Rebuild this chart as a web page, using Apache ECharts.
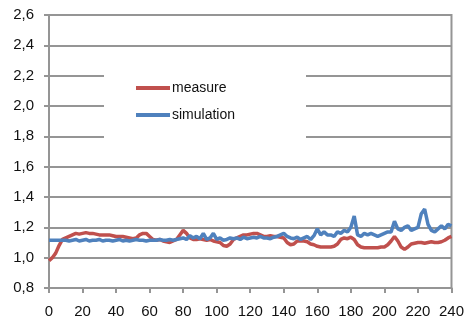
<!DOCTYPE html>
<html>
<head>
<meta charset="utf-8">
<script src="https://cdn.jsdelivr.net/npm/echarts@6/dist/echarts.min.js"></script>
<style>
  html, body { margin: 0; padding: 0; background: #fff; }
  #chart { width: 467px; height: 326px; }
</style>
</head>
<body>
<div id="chart"></div>
<script>
// sample step of the recorded series (x axis units)
const step = 2;

const measure = [
  0.98, 1.00, 1.03, 1.08, 1.12, 1.13, 1.14, 1.15, 1.16, 1.155,
  1.16, 1.165, 1.16, 1.16, 1.155, 1.15, 1.15, 1.15, 1.15, 1.145,
  1.14, 1.14, 1.14, 1.135, 1.13, 1.125, 1.13, 1.15, 1.16, 1.16,
  1.14, 1.12, 1.115, 1.12, 1.11, 1.105, 1.10, 1.11, 1.12, 1.15,
  1.18, 1.16, 1.13, 1.12, 1.12, 1.125, 1.12, 1.115, 1.12, 1.11,
  1.105, 1.10, 1.08, 1.075, 1.09, 1.12, 1.13, 1.14, 1.15, 1.15,
  1.155, 1.16, 1.16, 1.15, 1.14, 1.14, 1.145, 1.14, 1.14, 1.135,
  1.13, 1.10, 1.085, 1.09, 1.11, 1.11, 1.11, 1.105, 1.09, 1.085,
  1.075, 1.07, 1.07, 1.07, 1.07, 1.075, 1.09, 1.12, 1.13, 1.125,
  1.135, 1.12, 1.085, 1.07, 1.065, 1.065, 1.065, 1.065, 1.065, 1.07,
  1.07, 1.085, 1.11, 1.14, 1.11, 1.07, 1.055, 1.07, 1.09, 1.095,
  1.10, 1.10, 1.095, 1.10, 1.105, 1.10, 1.10, 1.105, 1.115, 1.13,
  1.14
];

const simulation = [
  1.115, 1.115, 1.115, 1.115, 1.115, 1.115, 1.11, 1.115, 1.12, 1.11,
  1.115, 1.12, 1.11, 1.115, 1.115, 1.12, 1.11, 1.115, 1.115, 1.11,
  1.115, 1.12, 1.11, 1.115, 1.11, 1.115, 1.12, 1.115, 1.115, 1.11,
  1.115, 1.115, 1.115, 1.12, 1.115, 1.115, 1.12, 1.115, 1.12, 1.125,
  1.13, 1.12, 1.145, 1.13, 1.14, 1.125, 1.16, 1.12, 1.13, 1.16,
  1.12, 1.13, 1.115, 1.12, 1.13, 1.125, 1.13, 1.12, 1.135, 1.125,
  1.13, 1.135, 1.13, 1.14, 1.13, 1.13, 1.125, 1.135, 1.14, 1.15,
  1.16, 1.14, 1.13, 1.125, 1.135, 1.12, 1.13, 1.14, 1.12, 1.145,
  1.19, 1.15, 1.17, 1.15, 1.15, 1.14, 1.17, 1.16, 1.18, 1.17,
  1.20, 1.275, 1.15, 1.14, 1.16, 1.15, 1.16, 1.15, 1.14, 1.15,
  1.16, 1.17, 1.17, 1.24, 1.19, 1.18, 1.20, 1.21, 1.18, 1.19,
  1.20, 1.29, 1.32, 1.22, 1.18, 1.17, 1.19, 1.21, 1.19, 1.22,
  1.21
];

const seriesNames = ["measure", "simulation"];
const colors = ["#C0504D", "#4F81BD"];

const xMin = 0, xMax = 240, xInterval = 20;
const yMin = 0.8, yMax = 2.6, yInterval = 0.2;

const grey = "#959595";
const font = "Liberation Sans, Arial, sans-serif";

function pairs(values) {
  return values.map((v, i) => [i * step, v]);
}

const chart = echarts.init(document.getElementById("chart"), null, { renderer: "canvas" });

chart.setOption({
  animation: false,
  backgroundColor: "#fff",
  grid: {
    left: 49, right: 15, top: 15, bottom: 38,
    show: true, borderColor: grey, borderWidth: 2, backgroundColor: "transparent"
  },
  xAxis: {
    type: "value",
    min: xMin, max: xMax, interval: xInterval,
    axisLine: { lineStyle: { color: grey, width: 2 } },
    axisTick: { show: true, length: 5, lineStyle: { color: grey, width: 2 } },
    axisLabel: { color: "#111", fontSize: 15, fontFamily: font, margin: 16 },
    splitLine: { show: false }
  },
  yAxis: {
    type: "value",
    min: yMin, max: yMax, interval: yInterval,
    axisLine: { show: true, lineStyle: { color: grey, width: 2 } },
    axisTick: { show: true, length: 5, lineStyle: { color: grey, width: 2 } },
    axisLabel: {
      color: "#111", fontSize: 15, fontFamily: font, margin: 15,
      formatter: (v) => v.toFixed(1).replace(".", ",")
    },
    splitLine: { show: true, lineStyle: { color: grey, width: 2 } }
  },
  graphic: [{
    type: "rect",
    z: 3,
    shape: { x: 104, y: 55, width: 202, height: 96 },
    style: { fill: "#fff" }
  }],
  legend: {
    orient: "vertical",
    left: 136, top: 81, padding: 0,
    itemWidth: 34, itemHeight: 4, itemGap: 13,
    icon: "rect",
    textStyle: { fontSize: 14, fontFamily: font, color: "#111", padding: [0, 0, 0, -3] },
    data: seriesNames
  },
  series: [
    {
      name: seriesNames[0], type: "line", data: pairs(measure),
      showSymbol: false, smooth: false,
      lineStyle: { color: colors[0], width: 3.5 },
      itemStyle: { color: colors[0] }
    },
    {
      name: seriesNames[1], type: "line", data: pairs(simulation),
      showSymbol: false, smooth: false,
      lineStyle: { color: colors[1], width: 3.5 },
      itemStyle: { color: colors[1] }
    }
  ]
});
</script>
</body>
</html>
